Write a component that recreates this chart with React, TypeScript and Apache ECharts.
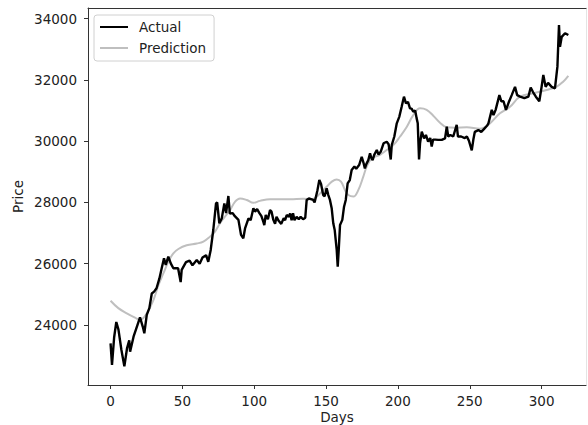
import React, { useEffect, useRef } from "react";
import * as echarts from "echarts";

const actualDays = [0, 1, 2.5, 4, 5.5, 7.5, 9.6, 11.5, 13, 13.6, 16, 18.7, 20.5, 22.4, 23.5, 25.2, 27, 28.7, 30.3, 32, 34, 35.6, 37.2, 38.4, 40.2, 41.9, 43.7, 47, 48.8, 49.5, 52.5, 55, 57, 60, 62, 64, 66.5, 68, 69.7, 71.5, 73.4, 74.2, 75.7, 77.4, 79.2, 80.4, 82, 83, 85, 86.5, 89, 90.8, 92.4, 93.6, 96, 97.5, 99.4, 100.5, 102, 103.6, 105, 106.3, 107, 108, 109.5, 111, 112, 113.3, 114.5, 115.5, 117, 118.8, 120.5, 121.5, 122.6, 124, 125, 126, 127, 128, 129.5, 131, 132.3, 134, 135.5, 136.5, 138, 141, 142, 144, 145.3, 146.5, 148, 149, 150.4, 151.5, 152.7, 153.9, 155, 156, 157.4, 158.1, 158.8, 159.7, 161.3, 162.5, 163.7, 165, 166.5, 167.8, 169.7, 171, 173, 174.8, 176, 177, 178, 179.4, 180.6, 181.5, 182.4, 183.5, 185.3, 186.5, 188, 190, 192.2, 193.5, 195, 195.7, 197.5, 199.2, 201, 202.6, 204.2, 205.6, 207, 208.4, 209.5, 210.7, 212, 213, 213.8, 214.7, 215.4, 216.6, 218.2, 219.5, 221, 222.5, 223.5, 224.5, 226, 228, 230.5, 232.8, 234, 235, 236.5, 238.5, 240.9, 241.8, 244, 246.5, 248, 249.5, 251.4, 252.5, 253.5, 256, 258, 260, 262, 263, 265.3, 266.5, 268, 270.6, 272, 273.5, 275.2, 277, 279.2, 281.5, 283, 285, 288, 290.8, 292.4, 294, 296, 298.4, 300, 301.2, 302.8, 304.5, 307, 309.3, 311, 312.1, 312.8, 314, 316.3, 318.6];
const actualPrices = [23400, 22700, 23600, 24100, 23850, 23200, 22650, 23250, 23500, 23130, 23620, 24000, 24250, 23950, 23730, 24330, 24550, 25030, 25090, 25200, 25520, 25850, 26180, 25960, 26230, 26010, 25850, 25850, 25400, 25800, 26050, 26100, 25950, 26120, 26000, 26200, 26280, 26060, 26450, 27100, 27970, 28000, 27320, 27480, 27970, 27650, 28210, 27640, 27650, 27550, 27430, 26940, 26830, 27150, 27480, 27420, 27810, 27700, 27780, 27650, 27550, 27370, 27260, 27590, 27450, 27750, 27700, 27430, 27300, 27530, 27400, 27300, 27480, 27420, 27590, 27530, 27640, 27420, 27650, 27420, 27530, 27450, 27530, 27450, 27500, 28080, 28130, 28080, 28000, 28400, 28730, 28600, 28240, 28200, 28460, 28250, 28080, 27810, 27320, 27100, 26450, 25900, 26450, 27260, 27430, 27860, 28080, 28620, 28730, 29060, 29170, 29100, 29220, 29490, 29300, 29110, 29250, 29380, 29600, 29450, 29380, 29550, 29710, 29560, 29650, 29930, 29980, 29900, 29400, 29870, 30150, 30580, 30800, 31120, 31450, 31230, 31280, 31070, 31060, 30960, 31000, 30750, 30580, 29400, 29930, 30310, 30090, 30200, 29980, 30100, 29820, 30050, 30050, 30040, 30040, 30090, 30470, 30150, 30200, 30150, 30530, 30150, 30150, 30100, 30150, 30000, 29700, 30050, 30300, 30360, 30300, 30400, 30500, 30580, 31020, 30850, 31020, 31500, 31300, 31300, 31020, 31250, 31500, 31770, 31500, 31450, 31400, 31450, 31750, 31600, 31450, 31300, 31770, 32160, 31770, 31900, 31770, 31720, 32430, 33790, 33080, 33400, 33520, 33460];

const predDays = [0, 5.4, 11.3, 17, 20.5, 25.2, 29.8, 33.3, 36.8, 40.2, 43.7, 47.2, 53, 60, 64.6, 69.2, 72.7, 76.2, 79.7, 83.2, 86.6, 90.1, 94.8, 99.4, 104, 111, 125, 134, 140, 146, 150.4, 154, 157.4, 160.4, 163.2, 165.5, 169, 172.4, 175.9, 178.3, 181.8, 187.5, 192.2, 196.8, 201.5, 206, 210.7, 215.4, 220, 224.6, 229.3, 234, 240, 247.9, 257, 264, 271, 278, 285, 294.2, 303.5, 310.5, 315, 318.6];
const predPrices = [24790, 24550, 24380, 24240, 24170, 24380, 24810, 25300, 25690, 26060, 26340, 26480, 26600, 26660, 26720, 26880, 27050, 27320, 27540, 27750, 28020, 28130, 28080, 27990, 28050, 28100, 28100, 28120, 28100, 28300, 28510, 28680, 28750, 28680, 28400, 28240, 28190, 28400, 28840, 29170, 29440, 29550, 29710, 29870, 30150, 30450, 30850, 31070, 31020, 30830, 30600, 30450, 30440, 30450, 30400, 30580, 30906, 31120, 31450, 31560, 31670, 31780, 31940, 32130];

const xTicks = [0, 50, 100, 150, 200, 250, 300];
const yTicks = [24000, 26000, 28000, 30000, 32000, 34000];

const FONT = "DejaVu Sans";

export default function App() {
  const ref = useRef<HTMLDivElement>(null);
  useEffect(() => {
    if (!ref.current) return;
    const chart = echarts.init(ref.current, null, { renderer: "svg" });
    const axisLineStyle = { color: "#333", width: 1 };
    chart.setOption({
      animation: false,
      backgroundColor: "#fff",
      grid: { left: 88, top: 8, right: 2, bottom: 40, containLabel: false, outerBoundsMode: "none" },
      legend: {
        orient: "vertical",
        left: 94,
        top: 15,
        padding: [5, 8, 6, 6],
        itemWidth: 28,
        itemHeight: 14,
        itemGap: 7,
        borderColor: "#d0d0d0",
        borderWidth: 1,
        borderRadius: 3,
        backgroundColor: "#fff",
        textStyle: { fontFamily: FONT, fontSize: 13.5, color: "#222", padding: [0, 0, 0, 6] },
        data: [
          { name: "Actual", icon: "path://M0,0L28,0L28,2L0,2Z" },
          { name: "Prediction", icon: "path://M0,0L28,0L28,2L0,2Z" },
        ],
      },
      xAxis: [
        {
          type: "value",
          min: -15.7,
          max: 330.9,
          position: "bottom",
          name: "Days",
          nameLocation: "middle",
          nameGap: 25,
          nameMoveOverlap: false,
          nameTextStyle: { fontFamily: FONT, fontSize: 13.5, color: "#222" },
          splitLine: { show: false },
          axisLine: { show: true, onZero: false, lineStyle: axisLineStyle },
          axisTick: { show: true, length: 4, lineStyle: axisLineStyle, customValues: xTicks },
          axisLabel: {
            show: true,
            margin: 9,
            fontFamily: FONT,
            fontSize: 13.5,
            color: "#222",
            customValues: xTicks,
            formatter: (v: number) => String(v),
          },
        },
        {
          type: "value",
          min: -15.7,
          max: 330.9,
          position: "top",
          splitLine: { show: false },
          axisLine: { show: true, onZero: false, lineStyle: axisLineStyle },
          axisTick: { show: false },
          axisLabel: { show: false },
        },
      ],
      yAxis: [
        {
          type: "value",
          min: 22043,
          max: 34343,
          position: "left",
          name: "Price",
          nameLocation: "middle",
          nameGap: 63,
          nameMoveOverlap: false,
          nameTextStyle: { fontFamily: FONT, fontSize: 13.5, color: "#222" },
          splitLine: { show: false },
          axisLine: { show: true, onZero: false, lineStyle: axisLineStyle },
          axisTick: { show: true, length: 4, lineStyle: axisLineStyle, customValues: yTicks },
          axisLabel: {
            show: true,
            margin: 11,
            fontFamily: FONT,
            fontSize: 13.5,
            color: "#222",
            customValues: yTicks,
            formatter: (v: number) => String(v),
          },
        },
        {
          type: "value",
          min: 22043,
          max: 34343,
          position: "right",
          splitLine: { show: false },
          axisLine: { show: true, onZero: false, lineStyle: { color: "#e4e4e4", width: 1 } },
          axisTick: { show: false },
          axisLabel: { show: false },
        },
      ],
      series: [
        {
          name: "Actual",
          type: "line",
          data: actualDays.map((d, i) => [d, actualPrices[i]]),
          showSymbol: false,
          symbol: "none",
          lineStyle: { color: "#000", width: 2.4 },
          itemStyle: { color: "#000" },
          z: 3,
        },
        {
          name: "Prediction",
          type: "line",
          data: predDays.map((d, i) => [d, predPrices[i]]),
          showSymbol: false,
          symbol: "none",
          smooth: 0.4,
          lineStyle: { color: "#bfbfbf", width: 2 },
          itemStyle: { color: "#bfbfbf" },
          z: 2,
        },
      ],
    });
    return () => chart.dispose();
  }, []);
  return (
    <div
      ref={ref}
      style={{ position: "fixed", left: 0, top: 0, width: 588, height: 425, background: "#fff" }}
    />
  );
}
